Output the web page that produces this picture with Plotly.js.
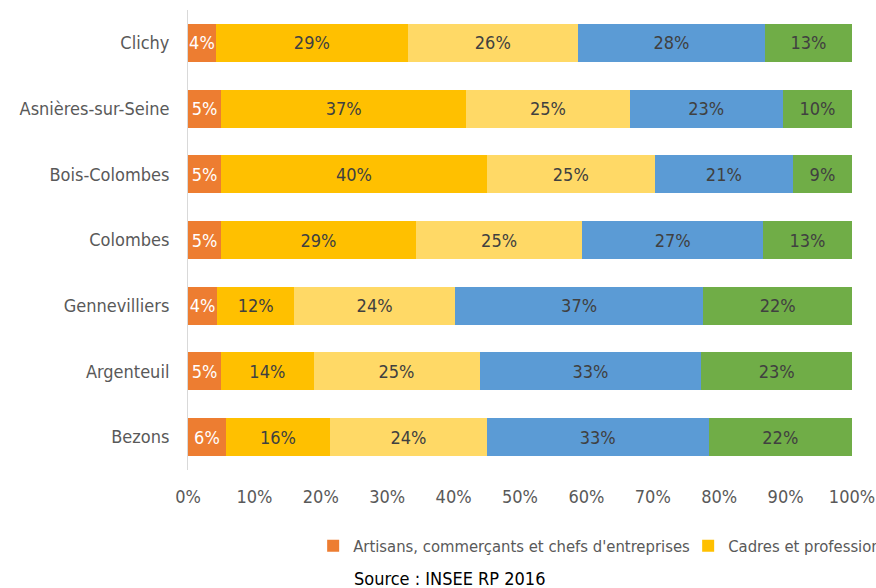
<!DOCTYPE html>
<html>
<head>
<meta charset="utf-8">
<script src="https://cdn.plot.ly/plotly-3.0.1.min.js"></script>
<style>html,body{margin:0;padding:0;background:#fff;}#chart{width:876px;height:588px;}</style>
</head>
<body>
<div id="chart"></div>
<script>
// Communes (top to bottom)
const communes = ["Clichy", "Asnières-sur-Seine", "Bois-Colombes", "Colombes", "Gennevilliers", "Argenteuil", "Bezons"];

// Share of each socio-professional category (%)
const artisans      = [4.2, 5.0, 5.0, 5.0, 4.4, 5.0, 5.7];
const cadres        = [28.9, 36.9, 40.0, 29.3, 11.6, 13.9, 15.7];
const intermediaires= [25.6, 24.6, 25.3, 25.1, 24.2, 25.0, 23.6];
const employes      = [28.2, 23.1, 20.8, 27.2, 37.4, 33.4, 33.4];
const ouvriers      = [13.1, 10.4, 8.9, 13.4, 22.4, 22.7, 21.6];

const seriesNames = [
  "Artisans, commerçants et chefs d'entreprises",
  "Cadres et professions intellectuelles supérieures",
  "Professions intermédiaires",
  "Employés",
  "Ouvriers"
];
const xTickVals = [0, 10, 20, 30, 40, 50, 60, 70, 80, 90, 100];
const xTickText = ["0%", "10%", "20%", "30%", "40%", "50%", "60%", "70%", "80%", "90%", "100%"];
const sourceText = "Source : INSEE RP 2016";

const FONT = "'Liberation Sans Narrow', 'Arial Narrow', 'DejaVu Sans Condensed', sans-serif";
const colors = ["#ED7D31", "#FFC000", "#FFD966", "#5B9BD5", "#70AD47"];
const textColors = ["#ffffff", "#404040", "#404040", "#404040", "#404040"];
const allSeries = [artisans, cadres, intermediaires, employes, ouvriers];

const traces = allSeries.map((vals, i) => ({
  type: "bar",
  orientation: "h",
  name: seriesNames[i],
  y: communes,
  x: vals,
  marker: { color: colors[i], line: { width: 0 } },
  texttemplate: "%{x:.0f}%",
  textposition: "inside",
  insidetextanchor: "middle",
  textangle: 0,
  constraintext: "none",
  textfont: { family: FONT, size: 18, color: textColors[i] },
  hoverinfo: "name+x",
  showlegend: i < 2,
  legendwidth: i === 0 ? 330 : 150
}));

const layout = {
  width: 876,
  height: 588,
  barmode: "stack",
  bargap: 0.42,
  paper_bgcolor: "#ffffff",
  plot_bgcolor: "#ffffff",
  font: { family: FONT, size: 17, color: "#595959" },
  margin: { l: 188, r: 24, t: 10, b: 118, autoexpand: false },
  xaxis: {
    range: [0, 100],
    tickvals: xTickVals,
    ticktext: xTickText,
    showgrid: false,
    zeroline: false,
    showline: false,
    ticks: "",
    ticklabelstandoff: 14,
    tickfont: { family: FONT, size: 18, color: "#595959" },
    fixedrange: true
  },
  yaxis: {
    categoryorder: "array",
    categoryarray: communes,
    autorange: "reversed",
    showgrid: false,
    zeroline: false,
    showline: true,
    linecolor: "#D9D9D9",
    linewidth: 1,
    ticks: "",
    ticklabelstandoff: 14,
    tickfont: { family: FONT, size: 18, color: "#595959" },
    fixedrange: true
  },
  legend: {
    orientation: "h",
    xref: "paper",
    yref: "paper",
    x: 0.1885,
    xanchor: "left",
    y: -0.165,
    yanchor: "middle",
    bgcolor: "rgba(0,0,0,0)",
    font: { family: FONT, size: 16.5, color: "#595959" },
    itemwidth: 30,
    traceorder: "normal"
  },
  annotations: [{
    text: sourceText,
    xref: "paper",
    yref: "paper",
    x: 0.247,
    xanchor: "left",
    y: -0.235,
    yanchor: "middle",
    showarrow: false,
    font: { family: FONT, size: 18, color: "#000000" }
  }]
};

Plotly.newPlot("chart", traces, layout, { displayModeBar: false, staticPlot: true });
</script>
</body>
</html>
